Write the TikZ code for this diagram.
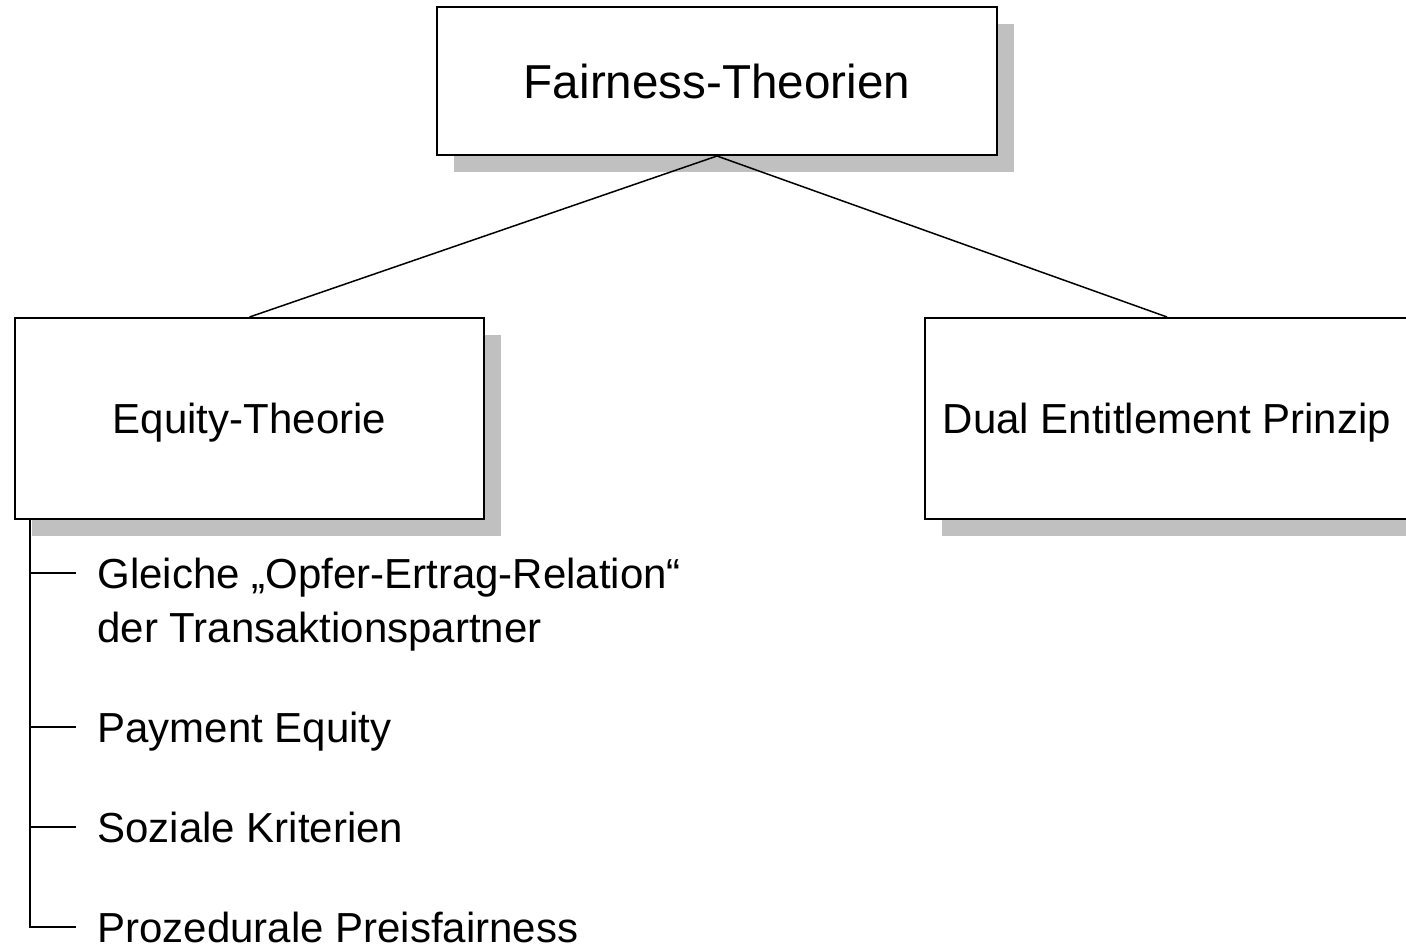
\documentclass[tikz,border=0pt]{standalone}
\usepackage{fontspec}
\setmainfont{Liberation Sans}
\usetikzlibrary{shadows}

\definecolor{shadowgray}{RGB}{192,192,192}

\tikzset{
  theory/.style={draw, line width=1pt, fill=white, inner sep=0pt, text depth=0pt,
    font=\fontsize{21}{27}\selectfont,
    general shadow={fill=shadowgray, shadow xshift=8.5pt, shadow yshift=-8.5pt}},
  item/.style={anchor=base west, align=left, inner sep=0pt,
    font=\fontsize{21}{27}\selectfont},
  link/.style={line width=0.75pt}
}

\begin{document}
\begin{tikzpicture}[x=0.5pt, y=-0.5pt]
    \useasboundingbox (0,0) rectangle (1406,949);
    \clip (0,0) rectangle (1406,949);

    % boxes
    \node[theory, minimum width=280pt, minimum height=74pt, font=\fontsize{23.8}{28}\selectfont] (fairness) at (717,81) {Fairness-Theorien};
    \node[theory, minimum width=234.5pt, minimum height=100.5pt] (equity) at (249.5,418.5) {Equity-Theorie};
    \node[theory, minimum width=242pt, minimum height=100.5pt] (dual) at (1167,418.5) {Dual Entitlement Prinzip};

    \draw[link] (fairness.south) -- (equity.north);
    \draw[link] (fairness.south) -- (dual.north);

    % list below equity (base of a two-line node is its last line)
    \node[item] (gleiche) at (97,642) {Gleiche „Opfer-Ertrag-Relation“\\der Transaktionspartner};
    \node[item] (payment) at (97,742) {Payment Equity};
    \node[item] (soziale) at (97,842) {Soziale Kriterien};
    \node[item] (prozedural) at (97,942) {Prozedurale Preisfairness};

    \coordinate (trunk) at ([xshift=8pt]equity.south west);
    \coordinate (tick-gleiche) at ([xshift=-10.5pt, yshift=34.5pt]gleiche.base west);
    \foreach \i in {payment, soziale, prozedural}
        \coordinate (tick-\i) at ([xshift=-10.5pt, yshift=7.5pt]\i.base west);

    \draw[link] (trunk) |- (tick-prozedural);
    \foreach \i in {gleiche, payment, soziale}
        \draw[link] (trunk |- tick-\i) -- (tick-\i);
\end{tikzpicture}
\end{document}
